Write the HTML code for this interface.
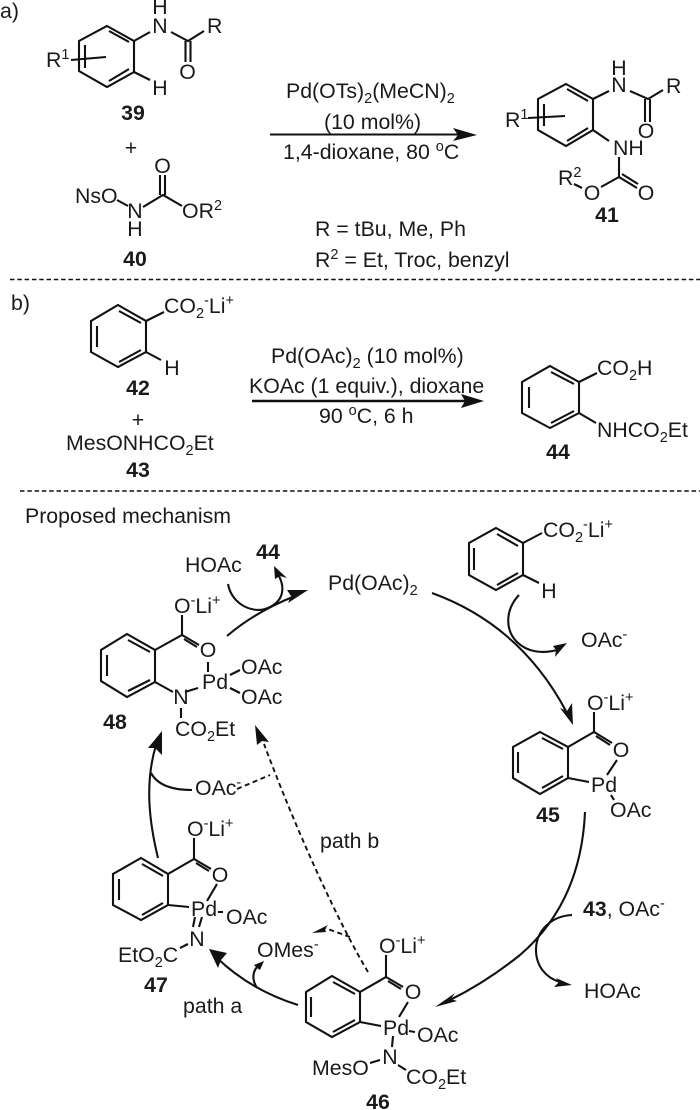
<!DOCTYPE html>
<html><head><meta charset="utf-8"><style>
html,body{margin:0;padding:0;background:#fff}
svg{display:block;filter:blur(.3px)}
text{font-family:"Liberation Sans",Arial,sans-serif;font-size:21.3px;fill:#1a1a1a}
.b{font-weight:bold}
.s{font-size:14.5px}
.m{text-anchor:middle}
path,line{fill:none;stroke:#111;stroke-width:2.1}
.d{stroke-dasharray:5 3.5;stroke-width:1.9}
.sep{stroke-dasharray:4.5 2.8;stroke-width:1.5}
polygon{fill:#111;stroke:none}
</style></head><body>
<svg width="700" height="1110" viewBox="0 0 700 1110" xmlns="http://www.w3.org/2000/svg">
<!-- a) -->
<text x="0" y="18">a)</text>
<path d="M107,26L134,41V72L107,87L79,71V41Z"/>
<path d="M109,31L129,42M129,69L109,81M85,45V68M71,60L106,57M134,41L150,32M171,32L188,41L204,31M185.5,41V62M190.5,41V62M134,72L150,80"/>
<text x="46" y="67">R<tspan dy="-8" class="s">1</tspan></text>
<text x="160" y="33" class="m">N</text><text x="160" y="14" class="m">H</text>
<text x="207" y="33">R</text>
<text x="187.5" y="79" class="m">O</text>
<text x="160" y="95" class="m">H</text>
<text x="133" y="120" class="b m">39</text>
<text x="131" y="155" class="m">+</text>
<text x="75" y="203">NsO</text>
<path d="M117,200L128,206M143,207L163,195L182,206M160,195V175M165,195V175"/>
<text x="135" y="218" class="m">N</text><text x="135" y="236" class="m">H</text>
<text x="162.5" y="173" class="m">O</text>
<text x="182" y="218">OR<tspan dy="-8" class="s">2</tspan></text>
<text x="135" y="266" class="b m">40</text>
<line x1="10" y1="279.5" x2="700" y2="279.5" class="sep"/>
<line x1="270" y1="134.5" x2="462" y2="134.5"/>
<polygon points="453,128 477,135 453,141 458,135"/>
<text x="286" y="98">Pd(OTs)<tspan dy="5" class="s">2</tspan><tspan dy="-5">(MeCN)</tspan><tspan dy="5" class="s">2</tspan></text>
<text x="324" y="129">(10 mol%)</text>
<text x="283" y="159">1,4-dioxane, 80 <tspan dy="-8" class="s">o</tspan><tspan dy="8">C</tspan></text>
<text x="315" y="236">R = tBu, Me, Ph</text>
<text x="315" y="267">R<tspan dy="-8" class="s">2</tspan><tspan dy="8"> = Et, Troc, benzyl</tspan></text>
<!-- 41 -->
<path d="M566,84L593,99V130L566,146L538,130V99Z"/>
<path d="M567,89L588,101M588,128L567,141M544,104V126M528,118L565,116M593,99L609,91M630,91L648,99L663,90M645,99V122M650,99V122M593,130L609,141M619,157V177L637,188M622,174L638,184M619,177L601,187M582,188L574,184"/>
<text x="619" y="92" class="m">N</text><text x="619" y="75" class="m">H</text>
<text x="666" y="93">R</text>
<text x="646" y="138" class="m">O</text>
<text x="613" y="155">NH</text>
<text x="646" y="200" class="m">O</text>
<text x="592" y="200" class="m">O</text>
<text x="558" y="185">R<tspan dy="-8" class="s">2</tspan></text>
<text x="505" y="127">R<tspan dy="-8" class="s">1</tspan></text>
<text x="607" y="222" class="b m">41</text>
<!-- b) -->
<text x="11" y="310">b)</text>
<path d="M118,305L146,321V352L118,367L91,352V321Z"/>
<path d="M119,311L141,323M141,350L119,362M97,326V347M146,321L164,312M146,352L161,360"/>
<text x="164" y="313">CO<tspan dy="5" class="s">2</tspan><tspan dy="-13" class="s">-</tspan><tspan dy="8">Li</tspan><tspan dy="-8" class="s">+</tspan></text>
<text x="172" y="375" class="m">H</text>
<text x="138" y="395" class="b m">42</text>
<text x="138" y="427" class="m">+</text>
<text x="66" y="450">MesONHCO<tspan dy="5" class="s">2</tspan><tspan dy="-5">Et</tspan></text>
<text x="138" y="477" class="b m">43</text>
<line x1="252" y1="401" x2="470" y2="401" style="stroke-width:2.6"/>
<polygon points="461,394 484,401 461,408 465,401"/>
<text x="271" y="363">Pd(OAc)<tspan dy="5" class="s">2</tspan><tspan dy="-5"> (10 mol%)</tspan></text>
<text x="249" y="393">KOAc (1 equiv.), dioxane</text>
<text x="319" y="423">90 <tspan dy="-8" class="s">o</tspan><tspan dy="8">C, 6 h</tspan></text>
<path d="M550,366L579,382V413L550,428L522,413V382Z"/>
<path d="M551,372L574,384M574,411L551,423M529,387V408M579,382L597,373M579,413L596,423"/>
<text x="597" y="375">CO<tspan dy="5" class="s">2</tspan><tspan dy="-5">H</tspan></text>
<text x="597" y="437">NHCO<tspan dy="5" class="s">2</tspan><tspan dy="-5">Et</tspan></text>
<text x="558" y="459" class="b m">44</text>
<line x1="20" y1="491" x2="700" y2="491" class="sep"/>
<!-- mechanism -->
<text x="25" y="523">Proposed mechanism</text>
<text x="185" y="572">HOAc</text>
<text x="268" y="559" class="b m">44</text>
<path d="M228,584C232,606 255,614 268,608C282,602 286,590 279,576"/>
<polygon points="274,566 287,578 280,576 275,579"/>
<path d="M227,636Q255,612 295,596"/>
<polygon points="308,590 288,603 291,596 287,590"/>
<text x="328" y="590">Pd(OAc)<tspan dy="5" class="s">2</tspan></text>
<!-- top right reagent -->
<path d="M496,528L523,543V575L496,590L469,575V543Z"/>
<path d="M497,534L518,546M518,573L497,585M474,548V570M523,543L542,533M523,575L539,583"/>
<text x="543" y="537">CO<tspan dy="5" class="s">2</tspan><tspan dy="-13" class="s">-</tspan><tspan dy="8">Li</tspan><tspan dy="-8" class="s">+</tspan></text>
<text x="549" y="598" class="m">H</text>
<path d="M519,595C505,610 505,630 517,642C527,652 542,654 557,650"/>
<polygon points="567,643 555,657 556,650 553,646"/>
<text x="581" y="647">OAc<tspan dy="-8" class="s">-</tspan></text>
<path d="M432,593Q520,625 566,711"/>
<polygon points="573,725 560,708 567,711 572,703"/>
<!-- 45 -->
<text x="587" y="710">O<tspan dy="-8" class="s">-</tspan><tspan dy="8">Li</tspan><tspan dy="-8" class="s">+</tspan></text>
<path d="M540,732L568,747V778L540,794L513,778V747Z"/>
<path d="M542,738L563,749M563,776L542,788M518,752V773M594,712V732M568,747L594,732L612,743M596,736L610,745M617,760L607,775M568,778L589,782M611,795L614,800"/>
<text x="621" y="757" class="m">O</text>
<text x="591" y="792">Pd</text>
<text x="610" y="817">OAc</text>
<text x="548" y="822" class="b m">45</text>
<path d="M585,812C582,880 555,925 520,955C495,975 470,990 450,1000"/>
<polygon points="435,1007 455,993 451,999 457,1001"/>
<text x="583" y="916"><tspan class="b">43</tspan>, OAc<tspan dy="-8" class="s">-</tspan></text>
<path d="M572,915C552,916 536,930 536,950C536,966 546,978 560,982"/>
<polygon points="572,985 556,978 559,982 554,987"/>
<text x="584" y="998">HOAc</text>
<!-- 48 -->
<text x="174" y="613">O<tspan dy="-8" class="s">-</tspan><tspan dy="8">Li</tspan><tspan dy="-8" class="s">+</tspan></text>
<path d="M127,634L155,650V682L127,697L101,681V650Z"/>
<path d="M128,640L150,652M150,680L128,691M107,655V676M182,615V635M155,650L182,635L199,645M184,639L197,647M208,662V672M155,682L173,692M185,692L198,688M230,675L240,670M230,688L240,693M181,708V718"/>
<text x="208" y="657" class="m">O</text>
<text x="202" y="689">Pd</text>
<text x="181" y="704" class="m">N</text>
<text x="241" y="674">OAc</text>
<text x="241" y="704">OAc</text>
<text x="175" y="736">CO<tspan dy="5" class="s">2</tspan><tspan dy="-5">Et</tspan></text>
<text x="115" y="729" class="b m">48</text>
<path d="M158,858C150,825 144,785 156,745"/>
<polygon points="162,731 162,755 155,748 148,748"/>
<path d="M151,773Q160,790 192,790"/>
<text x="195" y="795">OAc<tspan dy="-8" class="s">-</tspan></text>
<path d="M237,789L270,775" class="d"/>
<path d="M368,972C340,925 300,840 264,744" class="d"/>
<polygon points="255,725 269,742 262,741 257,745"/>
<text x="320" y="848">path b</text>
<!-- 47 -->
<text x="187" y="836">O<tspan dy="-8" class="s">-</tspan><tspan dy="8">Li</tspan><tspan dy="-8" class="s">+</tspan></text>
<path d="M141,858L168,874V905L141,920L113,905V874Z"/>
<path d="M142,864L163,876M163,903L142,915M119,879V900M194,838V859M168,874L194,859L211,869M196,863L209,871M217,884L207,901M168,905L189,907M218,912L223,912M195,917L193,927M202,917L199,927M188,944L180,948"/>
<text x="220" y="882" class="m">O</text>
<text x="191" y="916">Pd</text>
<text x="226" y="924">OAc</text>
<text x="197" y="946" class="m">N</text>
<text x="118" y="962">EtO<tspan dy="5" class="s">2</tspan><tspan dy="-5">C</tspan></text>
<text x="156" y="992" class="b m">47</text>
<text x="183" y="1013">path a</text>
<path d="M298,1005Q250,990 216,957"/>
<polygon points="209,949 227,953 221,960 218,968"/>
<text x="257" y="957">OMes<tspan dy="-8" class="s">-</tspan></text>
<path d="M257,988C252,980 252,972 258,966"/>
<polygon points="264,961 260,970 257,968 254,965"/>
<path d="M350,937L325,928" class="d"/>
<polygon points="312,933 328,925 325,929 326,932"/>
<!-- 46 -->
<text x="379" y="953">O<tspan dy="-8" class="s">-</tspan><tspan dy="8">Li</tspan><tspan dy="-8" class="s">+</tspan></text>
<path d="M332,976L360,992V1022L332,1037L306,1022V992Z"/>
<path d="M333,982L355,994M355,1020L333,1032M311,997V1017M386,955V977M360,992L386,977L403,987M388,981L401,989M408,1002L399,1017M360,1022L381,1026M409,1031L415,1032M393,1036L392,1047M370,1063L380,1060M398,1065L406,1070"/>
<text x="413" y="999" class="m">O</text>
<text x="383" y="1035">Pd</text>
<text x="417" y="1042">OAc</text>
<text x="390" y="1064" class="m">N</text>
<text x="312" y="1075">MesO</text>
<text x="406" y="1084">CO<tspan dy="5" class="s">2</tspan><tspan dy="-5">Et</tspan></text>
<text x="378" y="1109" class="b m">46</text>
</svg>
</body></html>
